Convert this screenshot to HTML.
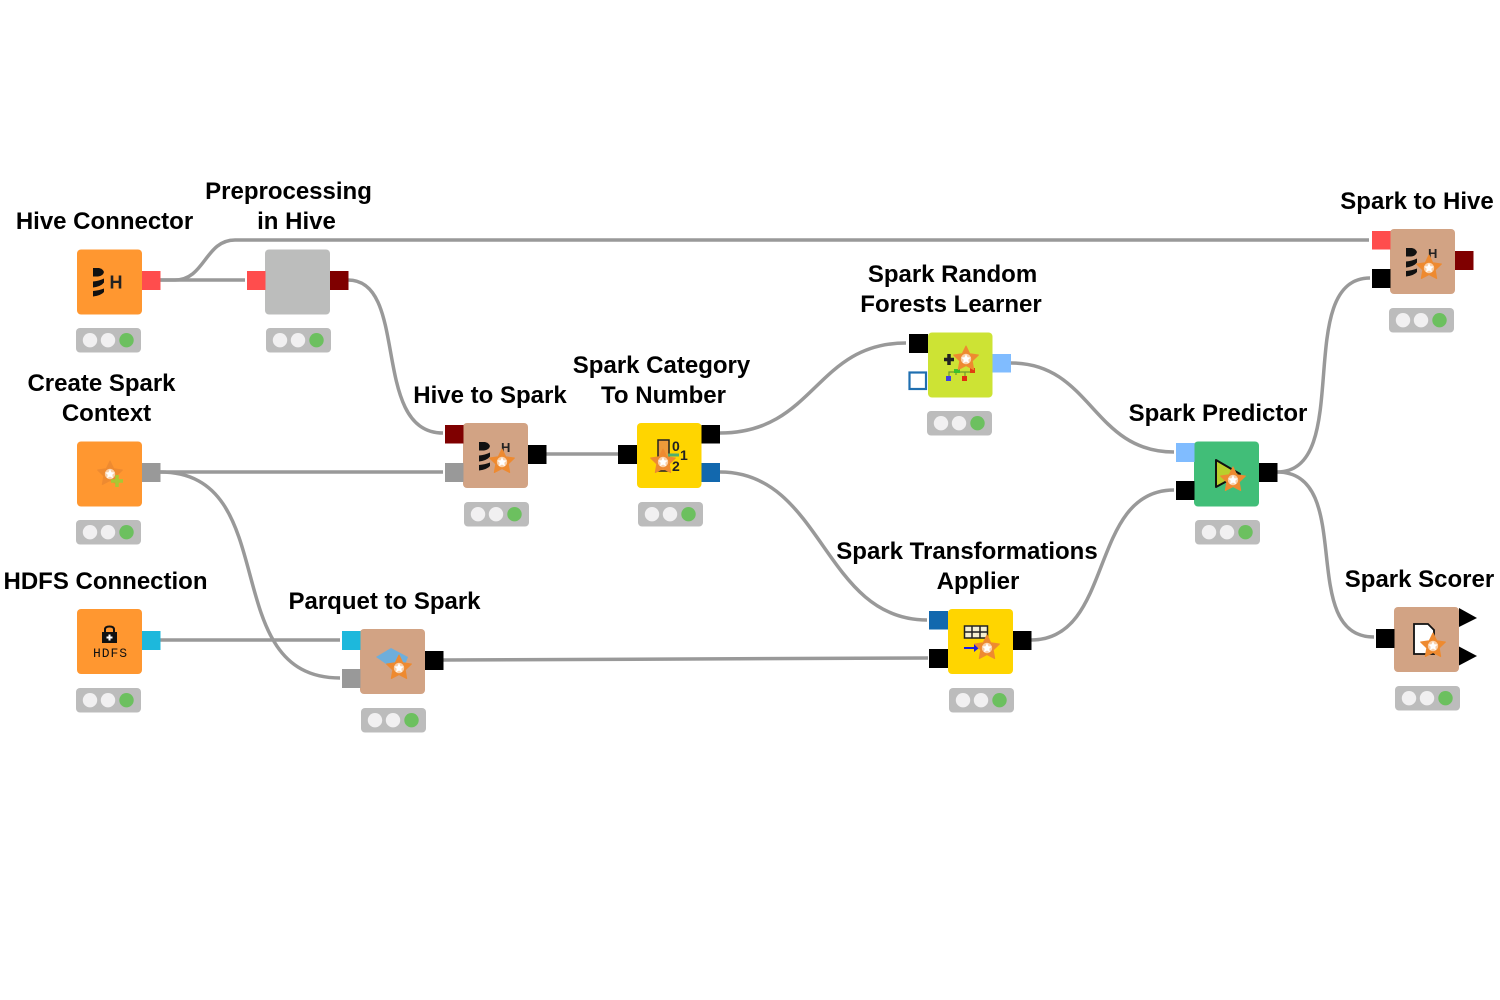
<!DOCTYPE html>
<html><head><meta charset="utf-8"><style>
html,body{margin:0;padding:0;background:#fff;width:1500px;height:1000px;overflow:hidden}
svg{display:block}
.l{font:bold 24px "Liberation Sans",sans-serif;fill:#000;text-anchor:middle}
.w{fill:none;stroke:#999;stroke-width:3.5}
</style></head><body>
<svg width="1500" height="1000" viewBox="0 0 1500 1000" xmlns="http://www.w3.org/2000/svg">
<defs>
<g id="st"><rect width="65" height="24.5" rx="4" fill="#bcbcbc"/><circle cx="14" cy="12.2" r="7.2" fill="#f1f0f1"/><circle cx="32" cy="12.2" r="7.2" fill="#f1f0f1"/><circle cx="50.5" cy="12.2" r="7.2" fill="#6cc05f"/></g>
<g id="star"><polygon points="0,-13 3.8,-5.2 12.4,-4 6.2,2 7.7,10.5 0,6.5 -7.700,10.500 -6.200,2 -12.400,-4 -3.800,-5.200" fill="#ee8a30" stroke="#ee8a30" stroke-width="1" stroke-linejoin="round"/><circle r="5.200" fill="#f9cfa8"/><polygon points="0,-5 1.400,-1.800 4.800,-1.500 2.300,0.800 3,4.200 0,2.500 -3,4.200 -2.300,0.800 -4.800,-1.500 -1.400,-1.800" fill="#fff"/></g>
<g id="drum" fill="#111"><path d="M0 0H6Q10 1 11 4Q10 8 5 8.500H0Z"/><path d="M0 13.500Q6 13 11 10.500V14.500Q8 18.500 0 19.500Z"/><path d="M0 23Q6 22.500 11 20.500V24Q8 27.500 0 28.500Z"/></g>
</defs>

<!-- wires -->
<path class="w" d="M160 280H245"/>
<path class="w" d="M160 280H175C205 280 205 240 235 240H1369"/>
<path class="w" d="M348 280C410 280 370 433 443 433"/>
<path class="w" d="M160 472H443"/>
<path class="w" d="M160 472C285 472 215 678 340 678"/>
<path class="w" d="M160 640H340"/>
<path class="w" d="M443 660L928 658"/>
<path class="w" d="M546 454H618"/>
<path class="w" d="M720 433C815 433 815 343 906 343"/>
<path class="w" d="M720 472C823 472 823 620 927 620"/>
<path class="w" d="M1031 640C1115 640 1088 490 1174 490"/>
<path class="w" d="M1011 363C1092 363 1092 452 1174 452"/>
<path class="w" d="M1277 472C1355 472 1292 278 1370 278"/>
<path class="w" d="M1277 472C1357 472 1296 637 1374 637"/>

<!-- Hive Connector -->
<rect x="77" y="249.5" width="65" height="65" rx="4" fill="#ff9730"/>
<rect x="142" y="271" width="18.5" height="19" fill="#ff4d4d"/>
<use href="#drum" x="93" y="268"/>
<text x="109.500" y="288.500" font-family="Liberation Sans" font-size="18" font-weight="bold" fill="#222">H</text>
<use href="#st" x="76" y="328"/>

<!-- Preprocessing -->
<rect x="265" y="249.5" width="65" height="65" rx="4" fill="#bcbdbc"/>
<rect x="247" y="271" width="18.5" height="19" fill="#ff4d4d"/>
<rect x="330" y="271" width="18.5" height="19" fill="#7f0000"/>
<use href="#st" x="266" y="328"/>

<!-- Create Spark Context -->
<rect x="77" y="441.5" width="65" height="65" rx="4" fill="#ff9730"/>
<rect x="142" y="463" width="18.5" height="19" fill="#999"/>
<use href="#star" x="110" y="474"/>
<path d="M117 475V487M111 481H123" stroke="#a9c833" stroke-width="3.500"/>
<use href="#st" x="76" y="520"/>

<!-- HDFS -->
<rect x="77" y="609" width="65" height="65" rx="4" fill="#ff9730"/>
<rect x="142" y="631" width="18.5" height="19" fill="#1db8dc"/>
<path d="M105 633V629.5Q105 626.5 109.500 626.500Q114 626.500 114 629.500V633" fill="none" stroke="#111" stroke-width="2"/>
<rect x="102" y="632" width="15" height="11" fill="#111"/>
<path d="M109.500 634.500V640.500M106.500 637.500H112.500" stroke="#fff" stroke-width="2"/>
<text x="110" y="657" font-family="Liberation Mono" font-size="13" fill="#111" text-anchor="middle" textLength="34" lengthAdjust="spacing">HDFS</text>
<use href="#st" x="76" y="688"/>

<!-- Parquet to Spark -->
<rect x="360" y="629" width="65" height="65" rx="4" fill="#d2a384"/>
<rect x="342" y="631" width="18.500" height="19" fill="#1db8dc"/>
<rect x="342" y="669" width="18.500" height="19" fill="#999"/>
<rect x="425" y="651" width="18.500" height="19" fill="#000"/>
<polygon points="376,657 391,648 408,657 403,670 392,668" fill="#6eaedb"/>
<use href="#star" x="399" y="668"/>
<use href="#st" x="361" y="708"/>

<!-- Hive to Spark -->
<rect x="463" y="423" width="65" height="65" rx="4" fill="#d2a384"/>
<rect x="445" y="425" width="18.500" height="18.500" fill="#7f0000"/>
<rect x="445" y="463" width="18.500" height="19" fill="#999"/>
<rect x="528" y="445" width="18.500" height="19" fill="#000"/>
<use href="#drum" x="479" y="442"/>
<text x="501" y="452" font-family="Liberation Sans" font-size="13" font-weight="bold" fill="#222">H</text>
<use href="#star" x="502" y="462"/>
<use href="#st" x="464" y="502"/>

<!-- Spark Category To Number -->
<rect x="637" y="423" width="64.500" height="65" rx="4" fill="#ffd500"/>
<rect x="618" y="445" width="19" height="19" fill="#000"/>
<rect x="701.500" y="425" width="18.500" height="18.500" fill="#000"/>
<rect x="701.500" y="463" width="18.500" height="19" fill="#1268ae"/>
<rect x="658" y="440" width="11" height="31" fill="#ee9a3a" stroke="#222" stroke-width="1.500"/>
<text x="672" y="451" font-family="Liberation Sans" font-weight="bold" font-size="14" fill="#222">0</text>
<text x="680" y="460" font-family="Liberation Sans" font-weight="bold" font-size="14" fill="#222">1</text>
<text x="672" y="471" font-family="Liberation Sans" font-weight="bold" font-size="14" fill="#222">2</text>
<path d="M668 455H679" stroke="#4fae6e" stroke-width="3"/>
<use href="#star" x="663" y="462"/>
<use href="#st" x="638" y="502"/>

<!-- Random Forests -->
<rect x="928" y="332.500" width="64.500" height="65" rx="4" fill="#cde334"/>
<rect x="909" y="334" width="19" height="19" fill="#000"/>
<rect x="909.500" y="372.500" width="16.500" height="16.500" fill="#fff" stroke="#1f6fb0" stroke-width="2.200"/>
<rect x="992.500" y="354" width="18.500" height="18.500" fill="#80bcff"/>
<path d="M949 354V365M944 359.500H954" stroke="#222" stroke-width="3.500"/>
<path d="M949 378V372H973M965 378V372M956 372V375" fill="none" stroke="#6d9a2c" stroke-width="1.200"/>
<rect x="954" y="369" width="6" height="4" fill="#3cc22c"/>
<rect x="946" y="376" width="5" height="5" fill="#4040e0"/>
<rect x="962" y="376" width="5" height="5" fill="#e03010"/>
<rect x="970" y="368" width="5" height="5" fill="#e04010"/>
<use href="#star" x="966" y="359"/>
<use href="#st" x="927" y="411"/>

<!-- Transformations Applier -->
<rect x="948" y="609" width="65" height="65" rx="4" fill="#ffd500"/>
<rect x="929" y="611" width="19" height="18.500" fill="#1268ae"/>
<rect x="929" y="649" width="19" height="19" fill="#000"/>
<rect x="1013" y="631" width="18.500" height="19" fill="#000"/>
<rect x="964.500" y="626" width="23" height="12" fill="#f5efd0" stroke="#222" stroke-width="1.500"/>
<path d="M972 626V638M980 626V638M964 632H988" stroke="#222" stroke-width="1.500"/>
<path d="M964 648H975" stroke="#1c1ce0" stroke-width="2"/>
<polygon points="974,644 979,648 974,652" fill="#1c1ce0"/>
<use href="#star" x="987" y="648"/>
<use href="#st" x="949" y="688"/>

<!-- Predictor -->
<rect x="1194" y="441.500" width="65" height="65" rx="4" fill="#41be78"/>
<rect x="1176" y="443" width="18.500" height="19" fill="#80bcff"/>
<rect x="1176" y="481" width="18.500" height="19" fill="#000"/>
<rect x="1259" y="463" width="18.500" height="19" fill="#000"/>
<polygon points="1216,460 1216,487 1240,474" fill="#b9cf2c" stroke="#111" stroke-width="2" stroke-linejoin="round"/>
<use href="#star" x="1233" y="480"/>
<use href="#st" x="1195" y="520"/>

<!-- Spark to Hive -->
<rect x="1390" y="229" width="65" height="65" rx="4" fill="#d2a384"/>
<rect x="1372" y="231" width="18.500" height="18.500" fill="#ff4d4d"/>
<rect x="1372" y="269" width="18.500" height="19" fill="#000"/>
<rect x="1455" y="251" width="18.500" height="19" fill="#7f0000"/>
<use href="#drum" x="1406" y="248"/>
<text x="1428" y="258" font-family="Liberation Sans" font-size="13" font-weight="bold" fill="#222">H</text>
<use href="#star" x="1429" y="268"/>
<use href="#st" x="1389" y="308"/>

<!-- Scorer -->
<rect x="1394" y="607" width="65" height="65" rx="4" fill="#d2a384"/>
<rect x="1376" y="629" width="18.500" height="19" fill="#000"/>
<polygon points="1459,608 1477,618 1459,627" fill="#000"/>
<polygon points="1459,646.500 1477,656 1459,665.500" fill="#000"/>
<path d="M1414 624H1428L1434 630V654H1414Z" fill="#fff" stroke="#111" stroke-width="1.800"/>
<use href="#star" x="1433" y="646"/>
<use href="#st" x="1395" y="686"/>

<!-- labels -->
<text class="l" x="104.500" y="229">Hive Connector</text>
<text class="l" x="288.500" y="199">Preprocessing</text>
<text class="l" x="296.500" y="229">in Hive</text>
<text class="l" x="101.500" y="391">Create Spark</text>
<text class="l" x="106.500" y="421">Context</text>
<text class="l" x="105.500" y="589">HDFS Connection</text>
<text class="l" x="384.500" y="609">Parquet to Spark</text>
<text class="l" x="490" y="403">Hive to Spark</text>
<text class="l" x="661.500" y="373">Spark Category</text>
<text class="l" x="663.500" y="403">To Number</text>
<text class="l" x="952.500" y="282">Spark Random</text>
<text class="l" x="951" y="312">Forests Learner</text>
<text class="l" x="967" y="559">Spark Transformations</text>
<text class="l" x="978" y="589">Applier</text>
<text class="l" x="1218" y="421">Spark Predictor</text>
<text class="l" x="1417" y="209">Spark to Hive</text>
<text class="l" x="1419.500" y="587">Spark Scorer</text>
</svg>
</body></html>
